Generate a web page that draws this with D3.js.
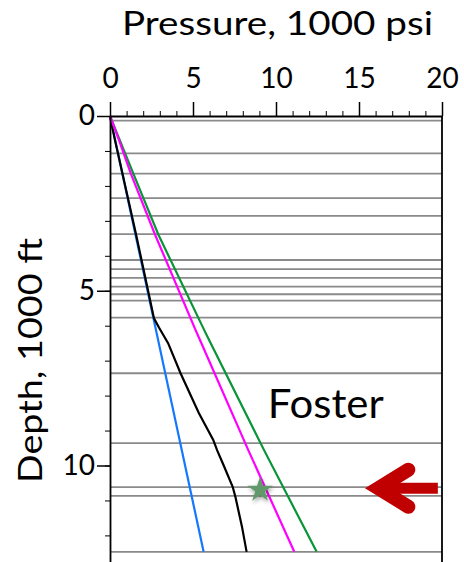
<!DOCTYPE html>
<html lang="en">
    <head>
        <meta charset="utf-8">
        <title>Foster pressure vs depth</title>
        <script src="https://d3js.org/d3.v7.min.js"></script>
        <style type="text/css">
            html, body {
                margin: 0;
                padding: 0;
                background-color: white;
            }
            svg {
                display: block;
            }
            .ticklabel {
                font-family: Lato, 'Open Sans', sans-serif;
                font-size: 28px;
                fill: black;
            }
            .title {
                font-family: Lato, 'Open Sans', sans-serif;
                font-size: 32px;
                fill: black;
            }
        </style>
    </head>

    <body>
        <script type="text/javascript">
            // values: [pressure (1000 psi), depth (1000 ft)]
            const xTicks = [0, 5, 10, 15, 20];
            const yTicks = [0, 5, 10];
            const formationTops = [0.13, 1.07, 1.65, 2.35, 2.86, 3.38, 4.12, 4.38, 4.63, 4.88,
                                   5.10, 5.28, 5.77, 7.36, 9.36, 10.62, 10.87, 12.47];
            const hydrostatic = [[0, 0], [5.64, 12.47]];
            const porePressure = [[0, 0], [0.30, 0.69], [1.57, 3.39], [2.65, 5.79], [2.95, 6.05],
                                  [3.50, 6.50], [4.25, 7.36], [5.35, 8.50], [6.22, 9.27], [6.45, 9.56],
                                  [6.85, 10.0], [7.39, 10.61], [7.55, 10.89], [7.95, 11.75], [8.23, 12.47]];
            const fracPressure = [[0, 0], [0.54, 0.69], [1.25, 1.64], [2.71, 3.39], [5.15, 6.12],
                                  [5.42, 6.41], [8.33, 9.56], [11.10, 12.47]];
            const overburden = [[0, 0], [1.40, 1.64], [2.91, 3.39], [5.67, 6.12], [5.97, 6.41],
                                [9.28, 9.56], [12.45, 12.47]];
            const starPoint = [9.04, 10.7];
            const fieldName = "Foster";
            const fieldLabelAt = [9.5, 8.65];
            const arrowDepth = 10.65, arrowFrom = 19.75, arrowTo = 15.2;

            const w = 464, h = 562;
            const x = d3.scaleLinear().domain([0, 20]).range([110, 442]);
            const y = d3.scaleLinear().domain([0, 13]).range([116, 116 + 13 * 34.95]);

            const svg = d3.select("body").append("svg")
                          .attr("width", w)
                          .attr("height", h);

            const defs = svg.append("defs");
            const shadow = defs.append("filter").attr("id", "shadow")
                               .attr("x", "-50%").attr("y", "-50%")
                               .attr("width", "200%").attr("height", "200%");
            shadow.append("feDropShadow")
                  .attr("dx", 1).attr("dy", 2)
                  .attr("stdDeviation", 2)
                  .attr("flood-color", "black")
                  .attr("flood-opacity", 0.4);

            // formation tops
            svg.append("g").selectAll("line")
               .data(formationTops)
               .enter()
               .append("line")
               .attr("x1", x(0)).attr("x2", x(20))
               .attr("y1", d => y(d)).attr("y2", d => y(d))
               .attr("stroke", "#8a8a8a")
               .attr("stroke-width", 1.8);

            // right frame line
            svg.append("line")
               .attr("x1", x(20)).attr("x2", x(20))
               .attr("y1", y(0)).attr("y2", h)
               .attr("stroke", "black")
               .attr("stroke-width", 1.8);

            // pressure curves
            const line = d3.line().x(d => x(d[0])).y(d => y(d[1]));
            const curves = [
                {data: hydrostatic, color: "#1478ff"},
                {data: porePressure, color: "black"},
                {data: overburden, color: "#0a9438"},
                {data: fracPressure, color: "#ff00ff"}
            ];
            svg.append("g").selectAll("path")
               .data(curves)
               .enter()
               .append("path")
               .attr("d", d => line(d.data))
               .attr("fill", "none")
               .attr("stroke", d => d.color)
               .attr("stroke-width", 2.2);

            // top axis: minor + major ticks
            svg.append("g")
               .attr("transform", "translate(0," + y(0) + ")")
               .call(d3.axisTop(x).tickValues(d3.range(0, 21)).tickSize(5).tickSizeOuter(0).tickFormat(""))
               .call(g => g.select(".domain").attr("stroke-width", 1.8));
            const xAxis = svg.append("g")
               .attr("transform", "translate(0," + y(0) + ")")
               .call(d3.axisTop(x).tickValues(xTicks).tickSize(14).tickSizeOuter(0).tickPadding(14));
            xAxis.select(".domain").remove();
            xAxis.selectAll("line").attr("stroke-width", 1.5);
            xAxis.selectAll("text").attr("class", "ticklabel").attr("font-size", null).attr("font-family", null);

            // left axis
            svg.append("g")
               .attr("transform", "translate(" + x(0) + ",0)")
               .call(d3.axisLeft(y).tickValues(d3.range(0, 13)).tickSize(5).tickSizeOuter(0).tickFormat(""))
               .call(g => g.select(".domain").attr("stroke-width", 1.8));
            const yAxis = svg.append("g")
               .attr("transform", "translate(" + x(0) + ",0)")
               .call(d3.axisLeft(y).tickValues(yTicks).tickSize(13).tickSizeOuter(0).tickPadding(2));
            yAxis.select(".domain").remove();
            yAxis.selectAll("line").attr("stroke-width", 1.5);
            yAxis.selectAll("text").attr("class", "ticklabel").attr("font-size", null).attr("font-family", null);

            // titles (stretched a bit to the width they take in the picture)
            svg.append("text")
               .attr("class", "title")
               .attr("x", 122)
               .attr("y", 35)
               .attr("textLength", 311)
               .attr("lengthAdjust", "spacingAndGlyphs")
               .text("Pressure, 1000 psi");
            svg.append("text")
               .attr("class", "title")
               .attr("transform", "translate(42,483) rotate(-90)")
               .attr("textLength", 245)
               .attr("lengthAdjust", "spacingAndGlyphs")
               .text("Depth, 1000 ft");

            // field label
            svg.append("text")
               .attr("class", "title")
               .attr("x", x(fieldLabelAt[0]))
               .attr("y", y(fieldLabelAt[1]))
               .style("font-size", "41px")
               .attr("textLength", 116)
               .attr("lengthAdjust", "spacingAndGlyphs")
               .text(fieldName);

            // star
            svg.append("path")
               .attr("d", d3.symbol(d3.symbolStar, 200)())
               .attr("transform", "translate(" + x(starPoint[0]) + "," + y(starPoint[1]) + ")")
               .attr("fill", "#62996a")
               .attr("filter", "url(#shadow)");

            // red arrow
            const ay = y(arrowDepth), tip = x(arrowTo);
            const arrow = svg.append("g").attr("fill", "none").attr("stroke", "#c00000");
            arrow.append("line")
                 .attr("x1", tip + 22).attr("x2", x(arrowFrom))
                 .attr("y1", ay).attr("y2", ay)
                 .attr("stroke-width", 11);
            arrow.append("path")
                 .attr("d", "M" + (tip + 46) + "," + (ay - 18.5) + "L" + (tip + 16) + "," + ay + "L" + (tip + 46) + "," + (ay + 18.5))
                 .attr("stroke-width", 14)
                 .attr("stroke-linecap", "round")
                 .attr("stroke-linejoin", "miter");
        </script>
    </body>
</html>
